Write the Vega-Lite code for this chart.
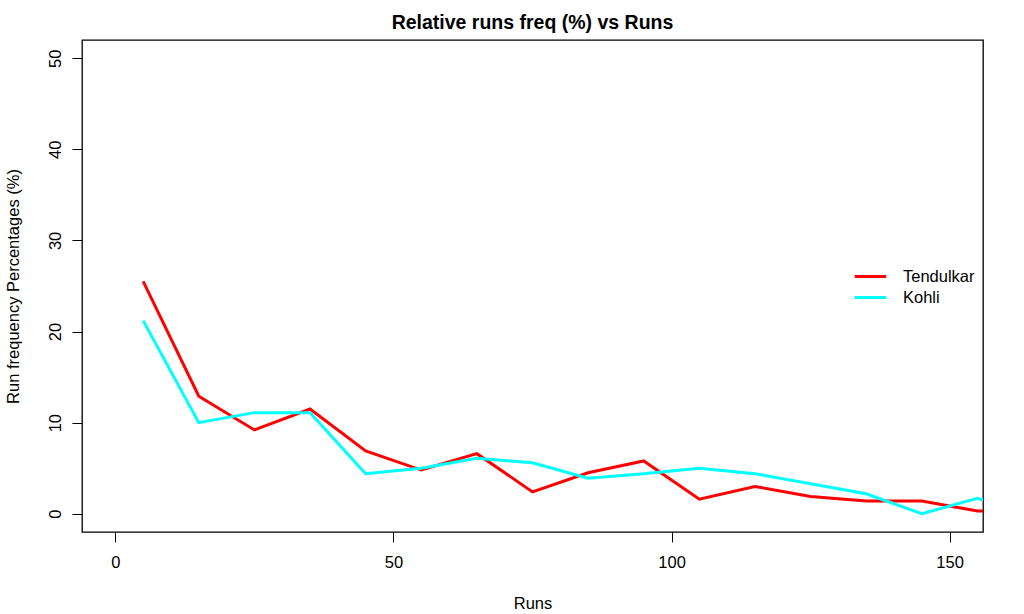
{
  "$schema": "https://vega.github.io/schema/vega-lite/v6.json",
  "width": 901,
  "height": 492,
  "autosize": {"type": "none"},
  "padding": {"left": 82, "top": 40, "right": 41, "bottom": 82},
  "background": "white",
  "config": {
    "font": "Liberation Sans",
    "view": {"stroke": "black", "strokeWidth": 1.3},
    "axis": {"grid": false, "domain": false, "tickColor": "black", "tickSize": 10, "tickWidth": 1, "labelFont": "Liberation Sans", "titleFont": "Liberation Sans", "labelFontSize": 16.5, "titleFontSize": 16.5, "labelColor": "black", "titleColor": "black", "titleFontWeight": "normal"}
  },
  "title": {"text": "Relative runs freq (%) vs Runs", "fontSize": 19.5, "fontWeight": "bold", "font": "Liberation Sans", "color": "black", "anchor": "middle", "offset": 7},
  "data": {"values": [
    {"runs": 5, "player": "Tendulkar", "freq": 25.5},
    {"runs": 15, "player": "Tendulkar", "freq": 12.9},
    {"runs": 25, "player": "Tendulkar", "freq": 9.2},
    {"runs": 35, "player": "Tendulkar", "freq": 11.5},
    {"runs": 45, "player": "Tendulkar", "freq": 6.9},
    {"runs": 55, "player": "Tendulkar", "freq": 4.8},
    {"runs": 65, "player": "Tendulkar", "freq": 6.6},
    {"runs": 75, "player": "Tendulkar", "freq": 2.4},
    {"runs": 85, "player": "Tendulkar", "freq": 4.5},
    {"runs": 95, "player": "Tendulkar", "freq": 5.8},
    {"runs": 105, "player": "Tendulkar", "freq": 1.6},
    {"runs": 115, "player": "Tendulkar", "freq": 3.0},
    {"runs": 125, "player": "Tendulkar", "freq": 1.9},
    {"runs": 135, "player": "Tendulkar", "freq": 1.4},
    {"runs": 145, "player": "Tendulkar", "freq": 1.4},
    {"runs": 155, "player": "Tendulkar", "freq": 0.3},
    {"runs": 165, "player": "Tendulkar", "freq": 0.3},
    {"runs": 5, "player": "Kohli", "freq": 21.2},
    {"runs": 15, "player": "Kohli", "freq": 10.0},
    {"runs": 25, "player": "Kohli", "freq": 11.1},
    {"runs": 35, "player": "Kohli", "freq": 11.1},
    {"runs": 45, "player": "Kohli", "freq": 4.4},
    {"runs": 55, "player": "Kohli", "freq": 5.0},
    {"runs": 65, "player": "Kohli", "freq": 6.1},
    {"runs": 75, "player": "Kohli", "freq": 5.6},
    {"runs": 85, "player": "Kohli", "freq": 3.9},
    {"runs": 95, "player": "Kohli", "freq": 4.4},
    {"runs": 105, "player": "Kohli", "freq": 5.0},
    {"runs": 115, "player": "Kohli", "freq": 4.4},
    {"runs": 125, "player": "Kohli", "freq": 3.3},
    {"runs": 135, "player": "Kohli", "freq": 2.2},
    {"runs": 145, "player": "Kohli", "freq": 0.0},
    {"runs": 155, "player": "Kohli", "freq": 1.7},
    {"runs": 165, "player": "Kohli", "freq": 0.0}
  ]},
  "mark": {"type": "line", "strokeWidth": 3, "clip": true},
  "encoding": {
    "x": {"field": "runs", "type": "quantitative", "scale": {"domain": [-6, 156], "nice": false, "zero": false}, "axis": {"values": [0, 50, 100, 150], "title": "Runs", "labelPadding": 12, "titlePadding": 25}},
    "y": {"field": "freq", "type": "quantitative", "scale": {"domain": [-2, 52], "nice": false, "zero": false}, "axis": {"values": [0, 10, 20, 30, 40, 50], "title": "Run frequency Percentages (%)", "labelAngle": -90, "labelAlign": "center", "labelBaseline": "bottom", "labelPadding": 9, "titlePadding": 26}},
    "color": {"field": "player", "type": "nominal", "sort": null, "scale": {"domain": ["Tendulkar", "Kohli"], "range": ["#FF0000", "#00FFFF"]}, "legend": {"title": null, "orient": "none", "legendX": 778, "legendY": 226, "padding": 0, "symbolType": "M-1.75,0H1.75", "symbolSize": 324, "symbolStrokeWidth": 3, "labelFontSize": 16.5, "labelFont": "Liberation Sans", "labelColor": "black", "labelOffset": 22, "rowPadding": 2}}
  }
}
